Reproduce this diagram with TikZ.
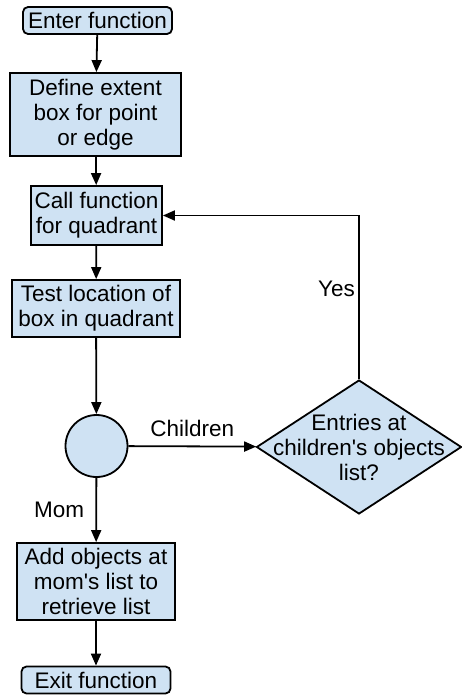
\documentclass[tikz,border=0pt]{standalone}
\usepackage{fontspec}
\setmainfont{Liberation Sans}[Ligatures=TeXOff]
\usepackage{tikz}
\usetikzlibrary{shapes.geometric, arrows.meta}
\definecolor{boxblue}{HTML}{CFE2F3}
\tikzstyle{startstop} = [rectangle, rounded corners=5pt, minimum width=149pt, minimum height=27pt, inner sep=0pt, text centered, draw=black, fill=boxblue, line width=1.8pt]
\tikzstyle{process} = [rectangle, align=center, inner sep=0pt, draw=black, fill=boxblue, line width=1.8pt]
\tikzstyle{decision} = [diamond, minimum width=205pt, minimum height=134pt, inner sep=0pt, draw=black, fill=boxblue, line width=1.8pt]
\tikzstyle{joint} = [circle, minimum size=62pt, inner sep=0pt, draw=black, fill=boxblue, line width=1.8pt]
\tikzstyle{arrow} = [line width=1.8pt, -{Triangle[length=12pt, width=10pt]}]

\begin{document}
\begin{tikzpicture}[x=1pt, y=-1pt, font=\fontsize{22.5}{25}\selectfont]
  \useasboundingbox (0,0) rectangle (462,696);
  \node(a)[startstop] at (97.5,20.5) {Enter function};
  \node(b)[process, minimum width=171pt, minimum height=83pt] at (95.5,114.5) {Define extent\\box for point\\or edge};
  \node(c)[process, minimum width=131pt, minimum height=59pt] at (96.5,215.5) {Call function\\for quadrant};
  \node(d)[process, minimum width=168pt, minimum height=57pt] at (96,308.5) {Test location of\\box in quadrant};
  \node(e)[joint] at (96.5,446) {};
  \node(f)[decision, label={[align=center]center:Entries at\\children's objects\\list?}] at (359,447) {};
  \node(g)[process, minimum width=158pt, minimum height=77pt] at (96,581.5) {Add objects at\\mom's list to\\retrieve list};
  \node(h)[startstop] at (96,680) {Exit function};
  \draw[arrow] (a)--(b);
  \draw[arrow] (b)--(c);
  \draw[arrow] (c)--(d);
  \draw[arrow] (d)--(e);
  \draw[arrow] (e) -- node(kids)[above=5pt] {Children} (f);
  \draw[arrow] (e) -- node(mom)[left=8pt] {Mom} (g);
  \draw[arrow] (g)--(h);
  \draw[arrow] (f.north) -- node(yes)[left=0pt, pos=0.55] {Yes} (f.north |- c.east) -- (c.east);
\end{tikzpicture}
\end{document}
